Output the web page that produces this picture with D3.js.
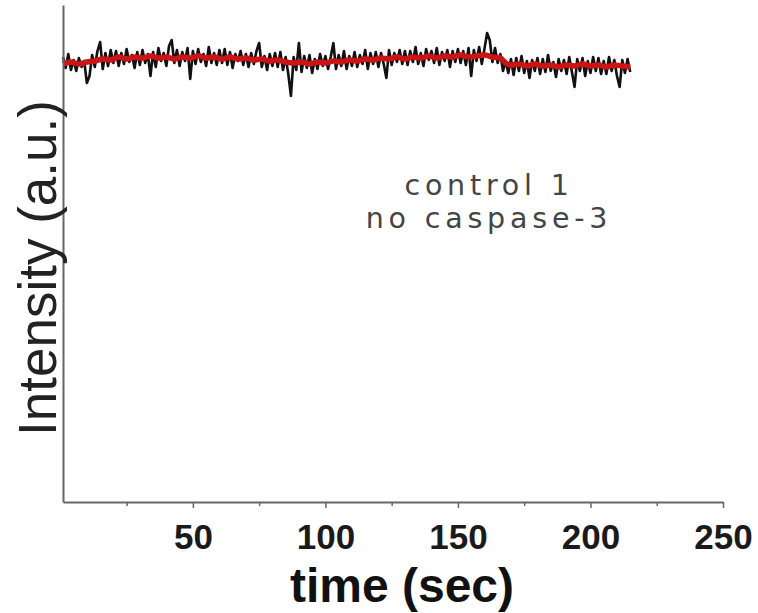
<!DOCTYPE html>
<html>
<head>
<meta charset="utf-8">
<script src="https://cdn.jsdelivr.net/npm/d3@7"></script>
<style>
  body { margin: 0; background: #fff; }
  svg { display: block; }
</style>
</head>
<body>
<div id="chart"></div>
<script>
// raw trace, one sample per second starting at t = 1 s (a.u.)
let rawIntensity = [
  445,434,448,432,442,431,444,435,441,419,
  426,447,435,451,460,433,449,436,452,439,
  451,436,449,438,453,440,447,434,450,437,
  452,439,448,426,450,435,454,441,449,436,
  456,462,439,452,436,450,441,454,423,451,
  438,453,440,448,436,455,439,449,437,452,
  439,453,437,450,434,448,441,451,437,448,
  435,449,438,451,459,435,446,432,448,436,
  449,435,450,432,445,428,406,445,432,459,
  430,446,434,447,429,443,433,448,436,446,
  433,445,459,433,447,436,451,433,446,436,
  450,435,447,438,452,433,449,438,450,435,
  449,438,424,452,437,449,440,452,438,451,
  437,451,440,455,438,449,436,453,442,451,
  439,454,437,450,441,452,435,451,440,453,
  439,451,437,454,426,452,441,455,438,453,
  469,462,440,454,439,448,431,441,429,443,
  427,444,431,446,429,441,424,442,431,444,
  428,443,430,447,431,440,425,443,431,442,
  428,445,430,415,443,431,444,426,441,429,
  445,431,444,428,441,428,445,431,442,426,
  415,442,429,443,430
];
let rawStart = 1;   // s
let rawStep = 1;    // s

// smoothed trace (red)
let fitTime = [1,4,7,10,13,16,19,22,25,28,31,34,37,40,43,46,49,52,55,58,61,64,67,70,
  73,76,79,82,85,88,91,94,97,100,103,106,109,112,115,118,121,124,127,130,133,136,
  139,142,145,148,151,154,157,160,163,166,168,170,173,176,179,182,185,188,191,194,
  197,200,203,206,209,212,215];
let fitIntensity = [438,440,438,440,441,443,442,445,443,445,444,446,444,445,443,445,
  444,446,444,445,443,445,443,444,442,443,441,442,440,439,440,438,440,439,441,440,
  442,441,443,442,444,443,445,443,445,444,446,444,446,445,447,445,446,447,445,444,
  439,437,438,436,438,436,437,435,437,436,438,436,437,435,437,436,435];

let majorTicks = [50, 100, 150, 200, 250];
let minorTicks = [25, 75, 125, 175, 225];
let noteLines = ["control 1", "no caspase-3"];

let width = 758, height = 613;
let margin = {top: 5, right: 35, bottom: 111, left: 63};

let svg = d3.select("#chart").append("svg")
  .attr("width", width)
  .attr("height", height);

let x = d3.scaleLinear()
  .domain([1, 250])
  .range([margin.left, width - margin.right]);

let y = d3.scaleLinear()
  .domain([0, 497])
  .range([height - margin.bottom, margin.top]);

let raw = rawIntensity.map((v, i) => ({t: rawStart + i * rawStep, v: v}));
let fit = fitTime.map((t, i) => ({t: t, v: fitIntensity[i]}));

// black noisy trace
svg.append("path")
  .datum(raw)
  .attr("fill", "none")
  .attr("stroke", "#111")
  .attr("stroke-width", 2.6)
  .attr("stroke-linejoin", "round")
  .attr("d", d3.line().x(d => x(d.t)).y(d => y(d.v)));

// red smoothed trace
svg.append("path")
  .datum(fit)
  .attr("fill", "none")
  .attr("stroke", "#cc1414")
  .attr("stroke-width", 5.5)
  .attr("stroke-linejoin", "round")
  .attr("d", d3.line().curve(d3.curveMonotoneX).x(d => x(d.t)).y(d => y(d.v)));

let axisY = height - margin.bottom;

// minor ticks
svg.append("g")
  .attr("transform", `translate(0,${axisY})`)
  .call(d3.axisBottom(x).tickValues(minorTicks).tickSize(4).tickSizeOuter(0).tickFormat(""))
  .call(g => g.select(".domain").remove())
  .call(g => g.selectAll("line").attr("stroke", "#666").attr("stroke-width", 1.5));

// major ticks + labels
svg.append("g")
  .attr("transform", `translate(0,${axisY})`)
  .call(d3.axisBottom(x).tickValues(majorTicks).tickSize(6).tickSizeOuter(0))
  .call(g => g.select(".domain").attr("stroke", "#666").attr("stroke-width", 2))
  .call(g => g.selectAll("line").attr("stroke", "#666").attr("stroke-width", 1.5))
  .call(g => g.selectAll("text")
    .attr("y", 47)
    .attr("dy", 0)
    .attr("fill", "#1a1a1a")
    .style("font-family", "'Liberation Sans', Arial, sans-serif")
    .style("font-weight", "bold")
    .style("font-size", "35px"));

// left axis, no ticks
svg.append("g")
  .attr("transform", `translate(${margin.left},0)`)
  .call(d3.axisLeft(y).tickValues([]).tickSizeOuter(0))
  .call(g => g.select(".domain").attr("stroke", "#666").attr("stroke-width", 2));

// axis titles
svg.append("text")
  .attr("x", 402)
  .attr("y", 602)
  .attr("text-anchor", "middle")
  .attr("fill", "#111")
  .style("font-family", "'Liberation Sans', Arial, sans-serif")
  .style("font-weight", "bold")
  .style("font-size", "48px")
  .text("time (sec)");

svg.append("text")
  .attr("transform", `translate(56,268) rotate(-90)`)
  .attr("text-anchor", "middle")
  .attr("fill", "#222")
  .style("font-family", "'Liberation Sans', Arial, sans-serif")
  .style("font-size", "53px")
  .text("Intensity (a.u.)");

// annotation
svg.append("g")
  .selectAll("text")
  .data(noteLines)
  .join("text")
  .attr("x", 489)
  .attr("y", (d, i) => 195 + i * 33)
  .attr("text-anchor", "middle")
  .attr("fill", "#444")
  .style("font-family", "'DejaVu Sans', sans-serif")
  .style("font-size", "28.5px")
  .style("letter-spacing", "4.8px")
  .text(d => d);
</script>
</body>
</html>
